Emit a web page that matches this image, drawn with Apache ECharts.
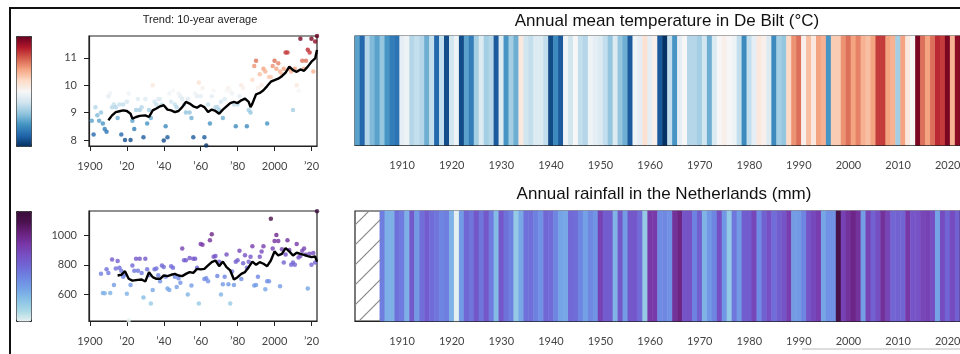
<!DOCTYPE html>
<html>
<head>
<meta charset="utf-8">
<script src="https://cdn.jsdelivr.net/npm/echarts@6/dist/echarts.min.js"></script>
<style>
  html, body { margin: 0; padding: 0; background: #fff; }
  #chart { width: 960px; height: 354px; }
</style>
</head>
<body>
<div id="chart"></div>
<script>
// years on the stripes / scatter
const firstYear = 1901;
const lastYear = 2023;
const years = [];
for (let y = firstYear; y <= lastYear; y++) years.push(y);

// annual mean temperature De Bilt (°C), 1901..2023
const tempValues = [
  8.7, 8.2, 9.2, 8.9, 8.7, 9.0, 8.6, 8.4, 8.3, 9.6,
  9.7, 9.2, 9.3, 9.2, 8.8, 9.3, 8.2, 9.3, 8.0, 9.4,
  9.7, 8.0, 8.7, 8.4, 9.1, 9.5, 9.1, 9.2, 8.1, 9.5,
  8.6, 9.1, 8.8, 10.0, 9.4, 9.3, 9.5, 9.5, 9.3, 7.98,
  8.5, 8.1, 9.7, 9.4, 9.8, 9.3, 9.2, 9.7, 9.6, 9.5,
  9.3, 9.0, 9.5, 9.0, 8.8, 8.1, 9.7, 9.6, 10.1, 9.6,
  9.9, 8.1, 7.8, 9.3, 8.6, 9.6, 9.8, 9.2, 9.2, 9.1,
  9.4, 8.8, 9.5, 9.8, 9.9, 9.8, 9.7, 9.3, 8.5, 9.3,
  9.6, 10.0, 9.9, 9.5, 8.5, 9.1, 9.0, 10.2, 10.7, 10.9,
  9.9, 10.4, 10.0, 10.6, 10.5, 8.6, 10.3, 10.3, 10.7, 10.9,
  10.6, 10.8, 10.5, 10.4, 10.6, 11.2, 11.2, 10.6, 10.5, 9.1,
  10.6, 10.0, 9.8, 11.7, 10.9, 10.6, 10.9, 11.3, 11.2, 11.7,
  10.5, 11.6, 11.8
];

// annual rainfall Netherlands (mm), 1906..2023 (no data before)
const rainStart = 1906;
const rainValues = [
  740, 610, 608, 770, 745, 610, 835, 665, 775, 825,
  780, 760, 720, 735, 605, 425, 665, 795, 760, 840,
  760, 840, 745, 580, 840, 770, 730, 540, 630, 770,
  775, 730, 690, 795, 785, 720, 640, 630, 790, 780,
  720, 650, 710, 680, 910, 830, 830, 600, 845, 660,
  840, 840, 780, 540, 940, 935, 705, 710, 690, 965,
  1005, 855, 860, 725, 820, 600, 670, 720, 870, 670,
  540, 755, 665, 820, 830, 895, 705, 810, 865, 780,
  820, 855, 925, 660, 665, 720, 855, 890, 925, 635,
  690, 690, 1110, 910, 960, 1000, 960, 655, 905, 815,
  870, 965, 900, 800, 815, 800, 940, 850, 860, 895,
  910, 870, 640, 875, 800, 880, 815, 1160
];

// 10-year average trend lines [year, value]
const tempTrend = [
  [1910, 8.72], [1912, 8.9], [1914, 9.02], [1916, 9.05], [1918, 9.08], [1920, 9.06],
  [1922, 8.96], [1923, 8.78], [1925, 8.84], [1927, 8.88], [1930, 8.9], [1932, 8.84],
  [1934, 9.08], [1936, 9.15], [1938, 9.23], [1939, 9.18], [1940, 9.27], [1942, 9.11],
  [1944, 9.08], [1946, 9.02], [1948, 9.06], [1950, 9.2], [1952, 9.39], [1954, 9.33],
  [1956, 9.23], [1958, 9.18], [1960, 9.27], [1962, 9.2], [1964, 9.02], [1966, 9.11],
  [1968, 9.06], [1970, 8.96], [1972, 9.11], [1974, 9.23], [1976, 9.35], [1978, 9.39],
  [1980, 9.35], [1982, 9.45], [1984, 9.51], [1986, 9.39], [1987, 9.2], [1988, 9.33],
  [1990, 9.67], [1992, 9.72], [1994, 9.82], [1996, 9.97], [1998, 10.13], [2000, 10.19],
  [2002, 10.24], [2004, 10.33], [2006, 10.46], [2008, 10.68], [2010, 10.55], [2012, 10.49],
  [2014, 10.58], [2016, 10.53], [2018, 10.68], [2020, 10.86], [2022, 10.98], [2023, 11.29]
];
const rainTrend = [
  [1915, 728], [1917, 733], [1919, 757], [1921, 706], [1923, 694], [1926, 699],
  [1928, 701], [1930, 688], [1932, 751], [1934, 717], [1936, 706], [1938, 706],
  [1940, 728], [1942, 724], [1944, 733], [1946, 739], [1948, 728], [1950, 724],
  [1952, 739], [1954, 751], [1956, 746], [1958, 773], [1960, 769], [1962, 773],
  [1964, 796], [1966, 818], [1968, 829], [1970, 791], [1972, 822], [1974, 784],
  [1976, 762], [1978, 701], [1980, 717], [1982, 739], [1984, 751], [1986, 784],
  [1988, 822], [1990, 800], [1992, 818], [1994, 807], [1996, 791], [1998, 829],
  [2000, 890], [2002, 863], [2004, 874], [2006, 912], [2008, 890], [2010, 863],
  [2012, 881], [2014, 874], [2016, 867], [2018, 858], [2020, 852], [2022, 856],
  [2023, 822]
];

// tick labels
const scatterXTicks = [1900, 1920, 1940, 1960, 1980, 2000, 2020];
const tempYTicks = [8, 9, 10, 11];
const rainYTicks = [600, 800, 1000];
const stripeTicks = [1910, 1920, 1930, 1940, 1950, 1960, 1970, 1980, 1990, 2000, 2010, 2020];

const tempColors = ['#053061', '#2166ac', '#4393c3', '#92c5de', '#d1e5f0', '#f7f7f7',
  '#fddbc7', '#f4a582', '#d6604d', '#b2182b', '#67001f'];
const rainColors = ['#e6f0f0', '#a8d8e6', '#88c0e6', '#74a2e6', '#6e86e2', '#7068d6',
  '#7650c4', '#7838a8', '#6a2280', '#4c1250', '#3a0d3a'];

// hatch pattern for missing years
const hatch = document.createElement('canvas');
hatch.width = 20; hatch.height = 20;
const hctx = hatch.getContext('2d');
hctx.strokeStyle = '#8a8a8a';
hctx.lineWidth = 1.2;
hctx.beginPath();
hctx.moveTo(-2, 22); hctx.lineTo(22, -2);
hctx.moveTo(-2, 2); hctx.lineTo(2, -2);
hctx.moveTo(18, 22); hctx.lineTo(22, 18);
hctx.stroke();

const labelFont = { fontFamily: 'Lato', fontSize: 11, color: '#444' };
const yearFmt = v => (v === 1900 || v === 2000) ? String(v) : '\u2019' + String(v).slice(2);

function scatterX(gridIndex) {
  return {
    type: 'value', gridIndex: gridIndex, min: 1899.5, max: 2023,
    axisLine: { lineStyle: { color: '#222', width: 1.2 } },
    axisTick: { length: 5, lineStyle: { color: '#222' }, customValues: scatterXTicks },
    axisLabel: Object.assign({ margin: 15, customValues: scatterXTicks, formatter: yearFmt }, labelFont),
    splitLine: { show: false }
  };
}
function scatterY(gridIndex, min, max, ticks) {
  return {
    type: 'value', gridIndex: gridIndex, min: min, max: max,
    axisLine: { show: true, lineStyle: { color: '#222', width: 1.2 } },
    axisTick: { show: true, length: 5, lineStyle: { color: '#222' }, customValues: ticks },
    axisLabel: Object.assign({ margin: 12, customValues: ticks, formatter: v => String(v) }, labelFont),
    splitLine: { show: false }
  };
}
function stripeX(gridIndex) {
  return {
    type: 'category', gridIndex: gridIndex, data: years.map(String),
    axisLine: { lineStyle: { color: '#222', width: 1.2 } },
    axisTick: { alignWithLabel: true, length: 5, lineStyle: { color: '#222' },
      interval: (i, v) => stripeTicks.includes(Number(v)) },
    axisLabel: Object.assign({ margin: 15, interval: (i, v) => stripeTicks.includes(Number(v)) }, labelFont),
    splitLine: { show: false }
  };
}
function stripeY(gridIndex) {
  return { type: 'category', gridIndex: gridIndex, data: [''], show: false };
}

const chart = echarts.init(document.getElementById('chart'), null, { renderer: 'canvas' });

const gridBase = { show: true, borderColor: '#222', borderWidth: 1.2, containLabel: false, outerBoundsMode: 'none' };

const option = {
  animation: false,
  backgroundColor: '#fff',
  grid: [
    Object.assign({ left: 89, top: 36, width: 228, height: 110 }, gridBase),
    Object.assign({ left: 355, top: 36, width: 610, height: 109 }, gridBase),
    Object.assign({ left: 89, top: 211, width: 228, height: 110 }, gridBase),
    Object.assign({ left: 355, top: 211, width: 610, height: 110 }, gridBase)
  ],
  xAxis: [scatterX(0), stripeX(1), scatterX(2), stripeX(3)],
  yAxis: [
    scatterY(0, 7.78, 11.8, tempYTicks), stripeY(1),
    scatterY(2, 422, 1162, rainYTicks), stripeY(3)
  ],
  visualMap: [
    {
      type: 'continuous', min: 7.78, max: 11.8, seriesIndex: [0, 2],
      inRange: { color: tempColors }, calculable: false, hoverLink: false,
      left: 16, top: 36, itemWidth: 15, itemHeight: 110, padding: 0,
      borderColor: '#222', borderWidth: 1
    },
    {
      type: 'continuous', min: 422, max: 1162, seriesIndex: [3, 5],
      inRange: { color: rainColors }, calculable: false, hoverLink: false,
      left: 16, top: 211, itemWidth: 15, itemHeight: 110, padding: 0,
      borderColor: '#222', borderWidth: 1
    }
  ],
  series: [
    {
      type: 'scatter', xAxisIndex: 0, yAxisIndex: 0, symbolSize: 4.5,
      data: years.map((y, i) => [y, tempValues[i]])
    },
    {
      type: 'line', xAxisIndex: 0, yAxisIndex: 0, data: tempTrend, showSymbol: false,
      lineStyle: { color: '#000', width: 2.4 }, z: 5
    },
    {
      type: 'heatmap', xAxisIndex: 1, yAxisIndex: 1,
      data: tempValues.map((v, i) => [i, 0, v]),
      itemStyle: { borderWidth: 0 }, emphasis: { disabled: true }
    },
    {
      type: 'scatter', xAxisIndex: 2, yAxisIndex: 2, symbolSize: 4.5,
      data: rainValues.map((v, i) => [rainStart + i, v])
    },
    {
      type: 'line', xAxisIndex: 2, yAxisIndex: 2, data: rainTrend, showSymbol: false,
      lineStyle: { color: '#000', width: 2.4 }, z: 5
    },
    {
      type: 'heatmap', xAxisIndex: 3, yAxisIndex: 3,
      data: rainValues.map((v, i) => [i + (rainStart - firstYear), 0, v]),
      itemStyle: { borderWidth: 0 }, emphasis: { disabled: true }
    },
    {
      type: 'custom', xAxisIndex: 3, yAxisIndex: 3,
      data: years.filter(y => y < rainStart).map((y, i) => [i, 0]),
      renderItem: function (params, api) {
        const p = api.coord([api.value(0), api.value(1)]);
        const s = api.size([1, 1]);
        return {
          type: 'rect',
          shape: { x: p[0] - s[0] / 2, y: p[1] - s[1] / 2, width: s[0] + 0.5, height: s[1] },
          style: { fill: { image: hatch, repeat: 'repeat' } }
        };
      }
    }
  ],
  graphic: [
    { type: 'rect', shape: { x: 10, y: 8, width: 980, height: 380 },
      style: { fill: 'none', stroke: '#111', lineWidth: 2 }, z: 100 },
    { type: 'line', shape: { x1: 802, y1: 349, x2: 960, y2: 349 },
      style: { stroke: '#bbb', lineWidth: 1 } },
    { type: 'text', x: 200, y: 20,
      style: { text: 'Trend: 10-year average', textAlign: 'center', textVerticalAlign: 'middle',
        font: '11px "Liberation Sans"', fill: '#222' } },
    { type: 'text', x: 667, y: 21,
      style: { text: 'Annual mean temperature in De Bilt (°C)', textAlign: 'center', textVerticalAlign: 'middle',
        font: '17px "Liberation Sans"', fill: '#111' } },
    { type: 'text', x: 664, y: 194,
      style: { text: 'Annual rainfall in the Netherlands (mm)', textAlign: 'center', textVerticalAlign: 'middle',
        font: '17px "Liberation Sans"', fill: '#111' } }
  ]
};

chart.setOption(option);
</script>
</body>
</html>
